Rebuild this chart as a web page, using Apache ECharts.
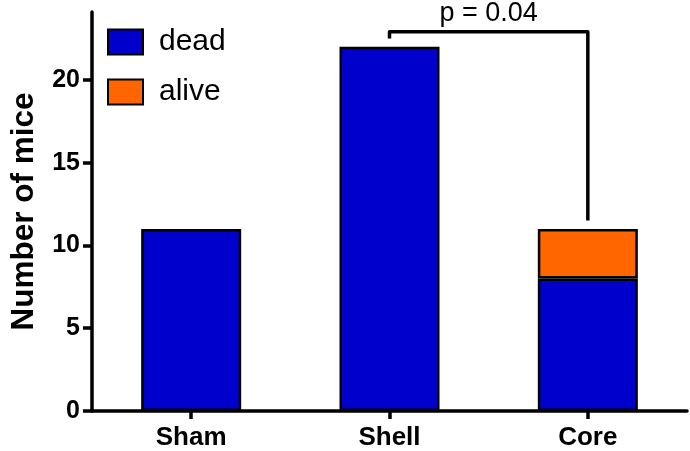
<!DOCTYPE html>
<html><head><meta charset="utf-8">
<script src="https://cdn.jsdelivr.net/npm/echarts@6/dist/echarts.min.js"></script>
<style>html,body{margin:0;padding:0;background:#fff}#c{width:690px;height:451px}</style>
</head><body><div id="c"></div>
<script>
const categories = ['Sham', 'Shell', 'Core'];
const dead = [11, 22, 8];
const alive = [0, 0, 3];
const yTicks = [0, 5, 10, 15, 20];
const pText = 'p = 0.04';
// significance bracket between Shell (index 1) and Core (index 2)
const bracketFrom = 1, bracketTo = 2;

const FONT = 'Liberation Sans';
const totals = dead.map((d, i) => d + alive[i]);
const byTop = Math.max(totals[bracketFrom], totals[bracketTo]) + 0.9;
const bracketData = [
  [bracketFrom, totals[bracketFrom] + 0.5], [bracketFrom, byTop],
  [bracketTo, byTop], [bracketTo, totals[bracketTo] + 0.5]
];

const chart = echarts.init(document.getElementById('c'));
chart.setOption({
  animation: false,
  grid: { left: 88, right: 3, top: 12, bottom: 39 },
  legend: {
    left: 102, top: 22, orient: 'vertical', itemWidth: 35, itemHeight: 25, itemGap: 20,
    icon: 'rect',
    data: ['dead', 'alive'],
    textStyle: { fontFamily: FONT, fontSize: 30, color: '#000', padding: [0, 0, 0, 11] }
  },
  xAxis: {
    type: 'category', data: categories,
    axisLine: { show: true, lineStyle: { color: '#000', width: 3.5 } },
    axisTick: { show: true, alignWithLabel: true, length: 8, lineStyle: { color: '#000', width: 3.5 } },
    axisLabel: { margin: 14, fontFamily: FONT, fontWeight: 'bold', fontSize: 26, color: '#000' }
  },
  yAxis: {
    type: 'value', min: 0, max: 24.1,
    name: 'Number of mice', nameLocation: 'middle', nameGap: 52,
    nameTextStyle: { fontFamily: FONT, fontWeight: 'bold', fontSize: 31.5, color: '#000' },
    splitLine: { show: false },
    axisLine: { show: true, lineStyle: { color: '#000', width: 3.5 } },
    axisTick: { show: true, customValues: yTicks, length: 9, lineStyle: { color: '#000', width: 3.5 } },
    axisLabel: { customValues: yTicks, margin: 12, fontFamily: FONT, fontWeight: 'bold', fontSize: 25, color: '#000' }
  },
  series: [
    {
      name: 'dead', type: 'bar', stack: 'total', barWidth: 100,
      itemStyle: { color: '#0000CC', borderColor: '#000', borderWidth: 2.5 },
      data: dead.map(v => v || null)
    },
    {
      name: 'alive', type: 'bar', stack: 'total', barWidth: 100,
      itemStyle: { color: '#FF6600', borderColor: '#000', borderWidth: 2.5 },
      data: alive.map(v => v || null)
    },
    {
      type: 'line', data: bracketData, symbol: 'none', silent: true, z: 4,
      lineStyle: { color: '#000', width: 3.5, join: 'round' }
    }
  ]
});
const pA = chart.convertToPixel({ gridIndex: 0 }, [bracketFrom, byTop]);
const pB = chart.convertToPixel({ gridIndex: 0 }, [bracketTo, byTop]);
chart.setOption({
  graphic: [{
    type: 'text', x: (pA[0] + pB[0]) / 2, y: pA[1] - 5,
    style: { text: pText, font: 'normal 27px "Liberation Sans"', fill: '#000', align: 'center', verticalAlign: 'bottom' }
  }]
});
</script></body></html>
